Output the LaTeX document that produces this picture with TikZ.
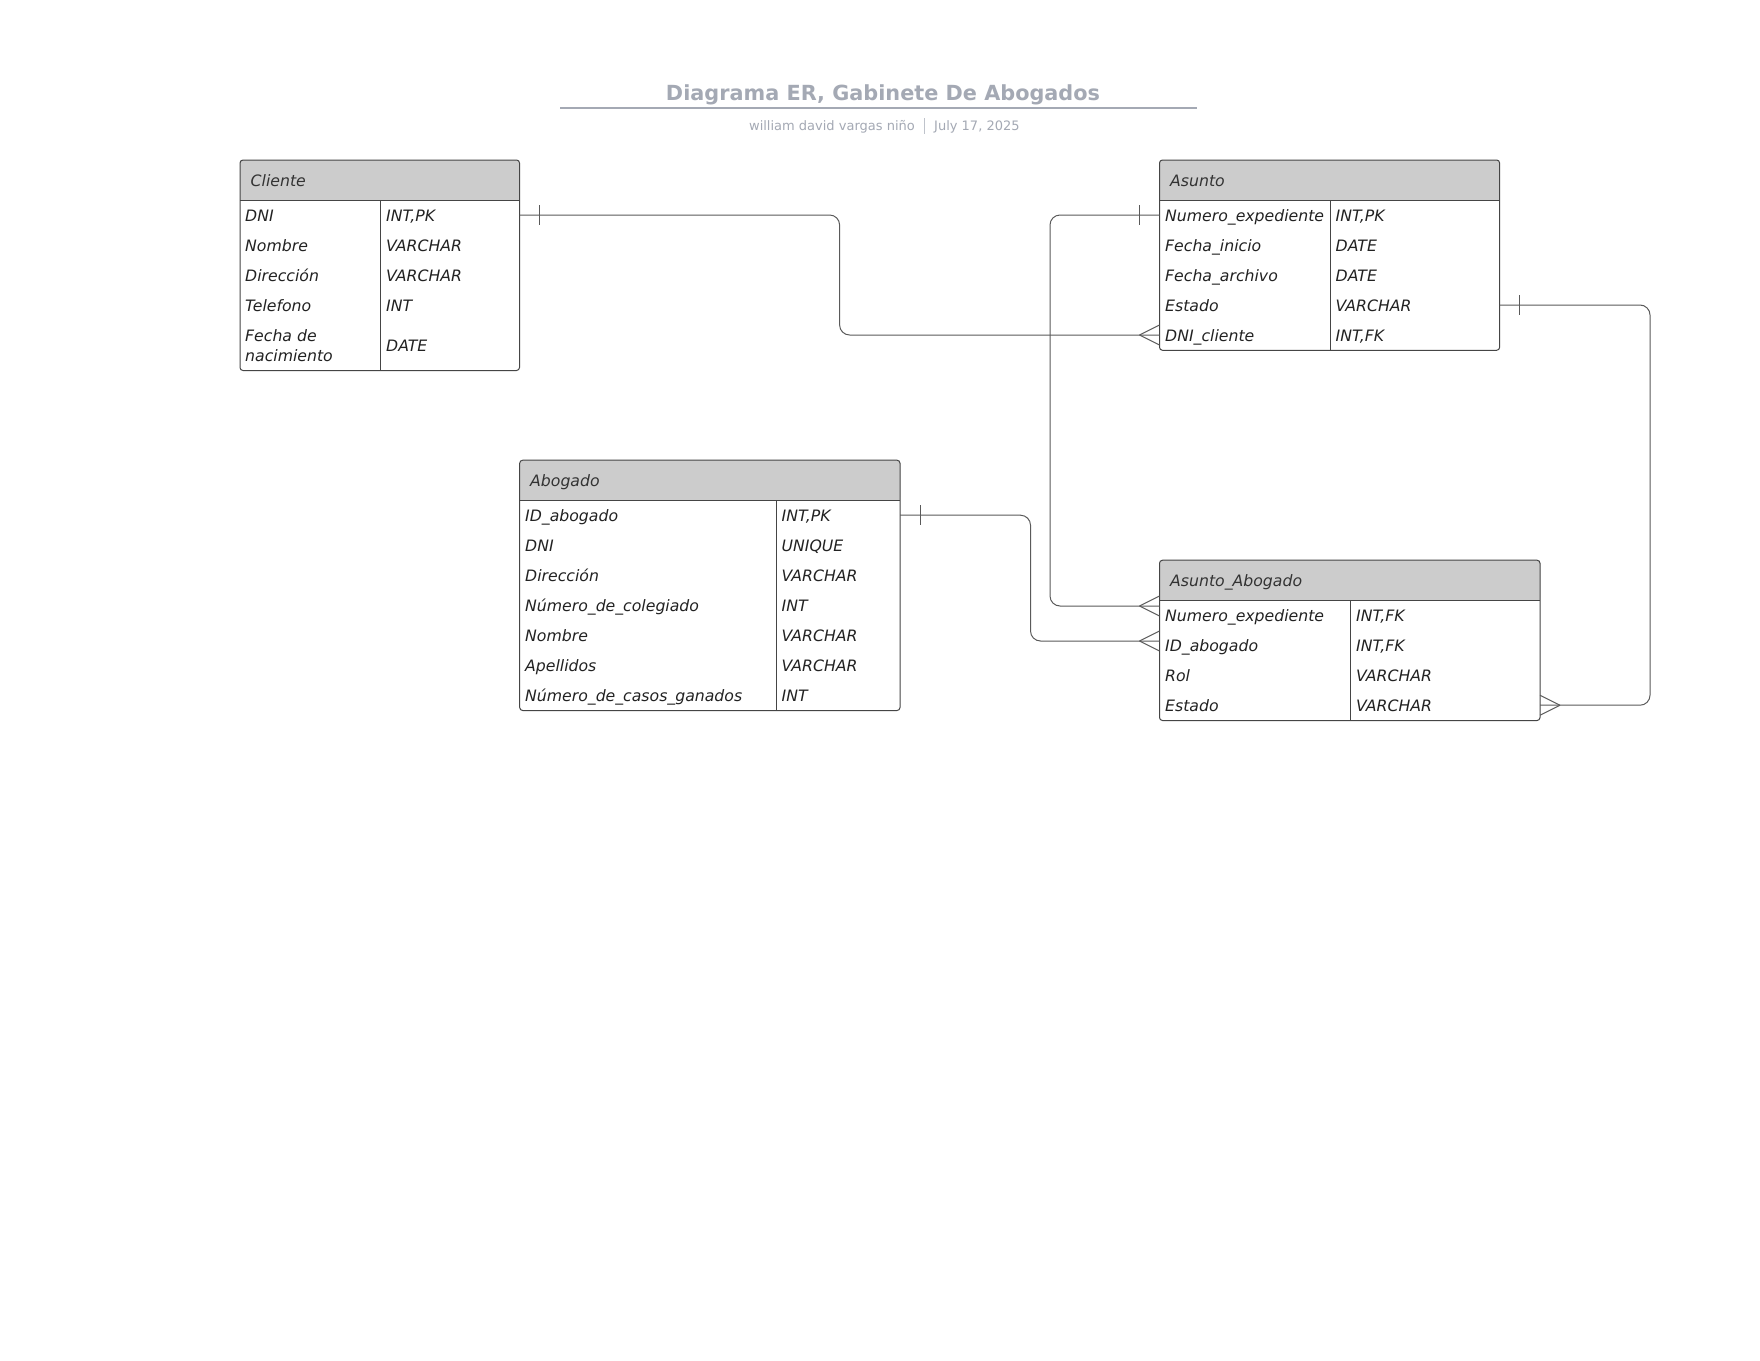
\documentclass[tikz,border=0pt]{standalone}
\usepackage{fontspec}
\setmainfont{DejaVu Sans}
\usetikzlibrary{calc}
\definecolor{hdr}{HTML}{CCCCCC}
\definecolor{bord}{HTML}{454545}
\definecolor{conn}{HTML}{5A5A5A}
\definecolor{ttl}{HTML}{A4A9B4}
\definecolor{txt}{HTML}{222222}
\definecolor{htxt}{HTML}{333333}
\tikzset{
  tbl/.style={draw=bord, line width=1pt, rounded corners=3pt, rectangle, inner sep=0pt, outer sep=0pt},
  cell/.style={anchor=base west, inner sep=0pt, text=txt, font=\fontsize{15.7}{20.5}\selectfont\itshape},
  cell2/.style={anchor=west, align=left, inner sep=0pt, text=txt, font=\fontsize{15.7}{20.5}\selectfont\itshape},
  htitle/.style={anchor=base west, inner sep=0pt, text=htxt, font=\fontsize{15.7}{20.5}\selectfont\itshape},
  conn/.style={draw=conn, line width=1pt},
  rel/.style={conn, rounded corners=10pt},
}
% #1 name, #2 left, #3 top, #4 right, #5 bottom, #6 divider x
\newcommand\erbox[6]{%
  \fill[hdr, rounded corners=3pt] (#2,#3) rectangle (#4,#3+40);
  \fill[hdr] (#2,#3+20) rectangle (#4,#3+40);
  \node[tbl, minimum width={#4-#2}, minimum height={#5-#3}, anchor=north west] (#1) at (#2,#3) {};
  \draw[bord, line width=1pt] (#2,#3+40) -- (#4,#3+40);
  \draw[bord, line width=1pt] (#6,#3+40) -- (#6,#5);
}
% one-bar: #1 point on the edge, #2 signed offset
\newcommand\onebar[2]{%
  \draw[conn] ($(#1)+(#2,-10)$) -- ($(#1)+(#2,10)$);
}
% crow's foot: #1 point on the edge, #2 signed apex offset
\newcommand\crowfoot[2]{%
  \draw[conn] ($(#1)+(#2,0)$) -- ($(#1)+(0,-10)$);
  \draw[conn] ($(#1)+(#2,0)$) -- ($(#1)+(0,10)$);
}
\begin{document}
\begin{tikzpicture}[x=1pt, y=-1pt]
\useasboundingbox (0,0) rectangle (1760,1360);
\fill[white] (0,0) rectangle (1760,1360);

% ---- title ----
\node[anchor=base, inner sep=0pt, text=ttl, font=\fontsize{20.8}{25}\selectfont\bfseries] (title) at (883,100.5) {Diagrama ER, Gabinete De Abogados};
\draw[draw=ttl, line width=2pt] (560,108.3) -- (1196.5,108.3);
\node[anchor=base east, inner sep=0pt, text=ttl, font=\fontsize{13}{16}\selectfont] (sub1) at (915,130.5) {william david vargas niño};
\node[anchor=base west, inner sep=0pt, text=ttl, font=\fontsize{13}{16}\selectfont] (sub2) at (934,130.5) {July 17, 2025};
\draw[draw=ttl!70, line width=0.8pt] (924,118) -- (924,134);

% ---- Cliente ----
\erbox{cli}{240}{160}{519.5}{370.5}{380.7}
\node[htitle] (cli-h) at (250.5,186) {Cliente};
\node[cell] (cli-r1) at (245,221) {DNI};
\node[cell] (cli-t1) at (386,221) {INT,PK};
\node[cell] (cli-r2) at (245,251) {Nombre};
\node[cell] (cli-t2) at (386,251) {VARCHAR};
\node[cell] (cli-r3) at (245,281) {Dirección};
\node[cell] (cli-t3) at (386,281) {VARCHAR};
\node[cell] (cli-r4) at (245,311) {Telefono};
\node[cell] (cli-t4) at (386,311) {INT};
\node[cell2] (cli-r5) at (245,345.5) {Fecha de\\nacimiento};
\node[cell] (cli-t5) at (386,351.5) {DATE};

% ---- Asunto ----
\erbox{asu}{1159.5}{160}{1499.6}{350.3}{1330.3}
\node[htitle] (asu-h) at (1170,186) {Asunto};
\node[cell] (asu-r1) at (1165,221) {Numero\_expediente};
\node[cell] (asu-t1) at (1335.5,221) {INT,PK};
\node[cell] (asu-r2) at (1165,251) {Fecha\_inicio};
\node[cell] (asu-t2) at (1335.5,251) {DATE};
\node[cell] (asu-r3) at (1165,281) {Fecha\_archivo};
\node[cell] (asu-t3) at (1335.5,281) {DATE};
\node[cell] (asu-r4) at (1165,311) {Estado};
\node[cell] (asu-t4) at (1335.5,311) {VARCHAR};
\node[cell] (asu-r5) at (1165,341) {DNI\_cliente};
\node[cell] (asu-t5) at (1335.5,341) {INT,FK};

% ---- Abogado ----
\erbox{abo}{519.7}{460.2}{900}{710.5}{776}
\node[htitle] (abo-h) at (530,486.2) {Abogado};
\node[cell] (abo-r1) at (525,521.2) {ID\_abogado};
\node[cell] (abo-t1) at (781.5,521.2) {INT,PK};
\node[cell] (abo-r2) at (525,551.2) {DNI};
\node[cell] (abo-t2) at (781.5,551.2) {UNIQUE};
\node[cell] (abo-r3) at (525,581.2) {Dirección};
\node[cell] (abo-t3) at (781.5,581.2) {VARCHAR};
\node[cell] (abo-r4) at (525,611.2) {Número\_de\_colegiado};
\node[cell] (abo-t4) at (781.5,611.2) {INT};
\node[cell] (abo-r5) at (525,641.2) {Nombre};
\node[cell] (abo-t5) at (781.5,641.2) {VARCHAR};
\node[cell] (abo-r6) at (525,671.2) {Apellidos};
\node[cell] (abo-t6) at (781.5,671.2) {VARCHAR};
\node[cell] (abo-r7) at (525,701.2) {Número\_de\_casos\_ganados};
\node[cell] (abo-t7) at (781.5,701.2) {INT};

% ---- Asunto_Abogado ----
\erbox{aa}{1159.5}{560.2}{1540}{720.5}{1350.4}
\node[htitle] (aa-h) at (1170,586.2) {Asunto\_Abogado};
\node[cell] (aa-r1) at (1165,621.2) {Numero\_expediente};
\node[cell] (aa-t1) at (1356,621.2) {INT,FK};
\node[cell] (aa-r2) at (1165,651.2) {ID\_abogado};
\node[cell] (aa-t2) at (1356,651.2) {INT,FK};
\node[cell] (aa-r3) at (1165,681.2) {Rol};
\node[cell] (aa-t3) at (1356,681.2) {VARCHAR};
\node[cell] (aa-r4) at (1165,711.2) {Estado};
\node[cell] (aa-t4) at (1356,711.2) {VARCHAR};

% ---- connector end points (row mid-lines) ----
\coordinate (p1a) at ($(cli.north east)+(0,55)$);
\coordinate (p1b) at ($(asu.north west)+(0,175)$);
\coordinate (p2a) at ($(asu.north west)+(0,55)$);
\coordinate (p2b) at ($(aa.north west)+(0,45.8)$);
\coordinate (p3a) at ($(abo.north east)+(0,55)$);
\coordinate (p3b) at ($(aa.north west)+(0,80.8)$);
\coordinate (p4a) at ($(asu.north east)+(0,145)$);
\coordinate (p4b) at ($(aa.north east)+(0,145)$);
\coordinate (k1) at (839.6,0);
\coordinate (k2) at (1050,0);
\coordinate (k3) at (1030.5,0);
\coordinate (k4) at (1650,0);

% ---- relationships ----
\draw[rel] (p1a) -- (p1a -| k1) -- (k1 |- p1b) -- (p1b);
\draw[rel] (p2a) -- (p2a -| k2) -- (k2 |- p2b) -- (p2b);
\draw[rel] (p3a) -- (p3a -| k3) -- (k3 |- p3b) -- (p3b);
\draw[rel] (p4a) -- (p4a -| k4) -- (k4 |- p4b) -- (p4b);

\onebar{p1a}{20}
\crowfoot{p1b}{-20}
\onebar{p2a}{-20}
\crowfoot{p2b}{-20}
\onebar{p3a}{20}
\crowfoot{p3b}{-20}
\onebar{p4a}{20}
\crowfoot{p4b}{20}
\end{tikzpicture}
\end{document}
